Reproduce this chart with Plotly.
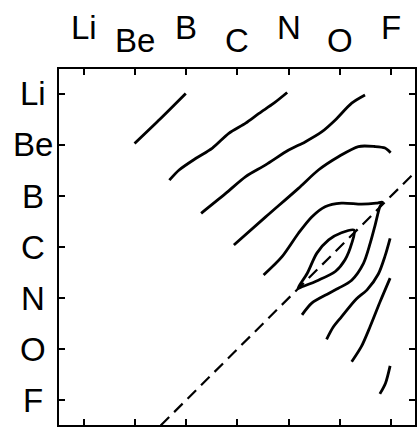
import plotly.graph_objects as go

elements = ["Li", "Be", "B", "C", "N", "O", "F"]
ticks = [0, 1, 2, 3, 4, 5, 6]

# contour curves (x = column element index, y = row element index)
c1_x = [0.99, 1.5, 1.99]
c1_y = [0.97, 0.48, -0.01]

c2_x = [1.67, 1.86, 2.19, 2.51, 2.83, 3.16, 3.42, 3.71, 3.97]
c2_y = [1.69, 1.49, 1.26, 1.06, 0.77, 0.57, 0.38, 0.18, -0.03]

c3_x = [2.29, 2.77, 3.16, 3.55, 4.00, 4.32, 4.65, 4.91, 5.23, 5.49]
c3_y = [2.34, 1.95, 1.62, 1.39, 1.10, 0.94, 0.74, 0.51, 0.18, 0.02]

c4_x = [2.93, 3.55, 4.19, 4.58, 4.97, 5.36, 5.68, 5.88, 5.99]
c4_y = [2.96, 2.41, 1.85, 1.49, 1.23, 1.03, 1.03, 1.06, 1.15]

c5_x = [3.51, 3.87, 4.19, 4.45, 4.71, 5.03, 5.42, 5.71, 5.83,
        5.78, 5.68, 5.59, 5.46, 5.23, 4.97, 4.78, 4.45, 4.26]
c5_y = [3.55, 3.19, 2.73, 2.41, 2.21, 2.14, 2.16, 2.14, 2.12,
        2.21, 2.60, 2.93, 3.32, 3.65, 3.81, 3.91, 4.10, 4.33]

c6_x = [4.18, 4.36, 4.55, 4.78, 5.03, 5.28, 5.23, 5.10, 4.91, 4.58, 4.26, 4.18]
c6_y = [3.81, 3.52, 3.12, 2.86, 2.72, 2.67, 2.93, 3.25, 3.48, 3.65, 3.78, 3.81]

c7_x = [5.98, 5.88, 5.75, 5.53, 5.32, 5.03, 4.87, 4.74]
c7_y = [2.83, 3.18, 3.53, 3.84, 4.02, 4.37, 4.57, 4.81]

c8_x = [5.98, 5.79, 5.59, 5.42, 5.23]
c8_y = [3.61, 4.06, 4.56, 4.95, 5.25]

c9_x = [5.98, 5.89, 5.78]
c9_y = [5.33, 5.67, 5.88]

diag_x = [1.5, 6.5]
diag_y = [6.5, 1.5]

curves = [(c1_x, c1_y), (c2_x, c2_y), (c3_x, c3_y), (c4_x, c4_y), (c5_x, c5_y),
          (c6_x, c6_y), (c7_x, c7_y), (c8_x, c8_y), (c9_x, c9_y)]

fig = go.Figure()
for cx, cy in curves:
    fig.add_trace(go.Scatter(x=cx, y=cy, mode="lines",
                             line=dict(color="black", width=2.8, shape="spline", smoothing=0.8),
                             showlegend=False, hoverinfo="skip"))
fig.add_trace(go.Scatter(x=diag_x, y=diag_y, mode="lines",
                         line=dict(color="black", width=2.2, dash="12px,7px"),
                         showlegend=False, hoverinfo="skip"))

font = dict(family="Liberation Sans, Arial, sans-serif", size=33, color="black")
ann = []
for i, (t, v) in enumerate(zip(elements, ticks)):
    ann.append(dict(x=v, y=1.117 if i % 2 == 0 else 1.081, xref="x", yref="paper",
                    text=t, showarrow=False, font=font, xanchor="center", yanchor="middle"))
    ann.append(dict(x=-0.073, y=v, xref="paper", yref="y",
                    text=t, showarrow=False, font=font, xanchor="center", yanchor="middle"))

axis = dict(showgrid=False, zeroline=False, showline=True, linecolor="black", linewidth=2,
            mirror="ticks", ticks="inside", ticklen=6, tickwidth=2, tickcolor="black",
            tickvals=ticks, showticklabels=False)

fig.update_layout(
    width=419, height=427,
    margin=dict(l=59, r=2, t=69, b=2),
    paper_bgcolor="white", plot_bgcolor="white",
    xaxis=dict(axis, range=[-0.485, 6.466]),
    yaxis=dict(axis, range=[6.49, -0.49]),
    annotations=ann,
)
fig.write_html("out.html")
